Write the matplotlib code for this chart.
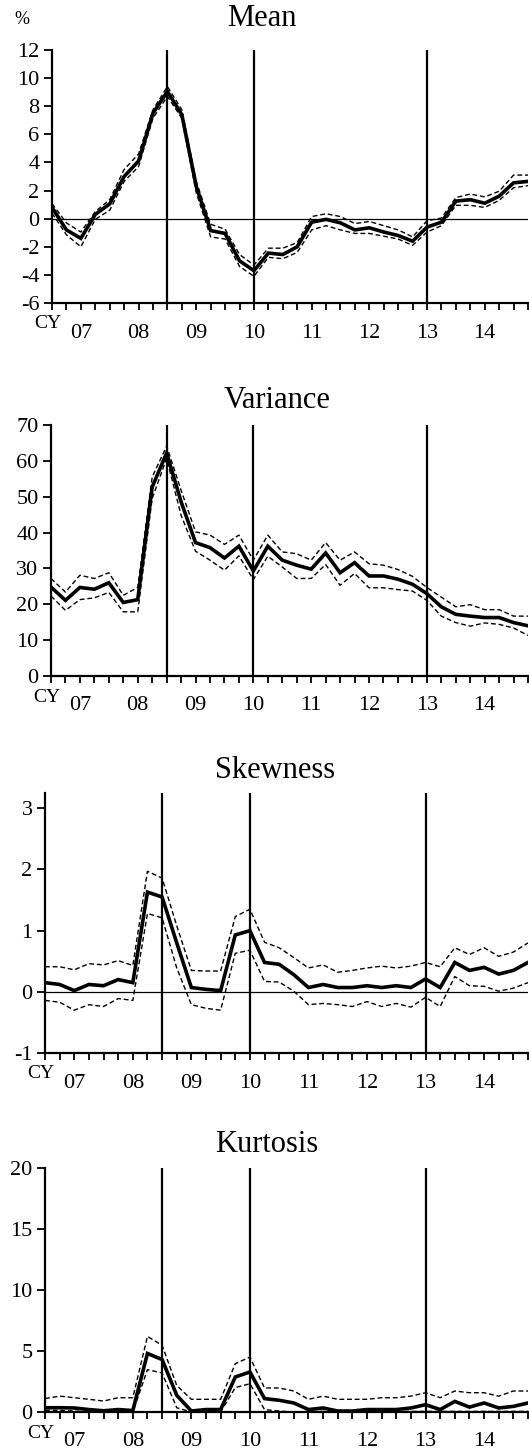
import matplotlib
matplotlib.use("Agg")
import matplotlib.pyplot as plt

plt.rcParams['font.family'] = ['Liberation Serif', 'DejaVu Serif']

# Quarterly observations, CY2007 Q1 onward
quarters = list(range(34))
year_labels = ['07', '08', '09', '10', '11', '12', '13', '14']
year_label_pos = [2, 6, 10, 14, 18, 22, 26, 30]
event_lines = [8, 14, 26]

mean_mid = [0.8, -0.8, -1.4, 0.3, 1.05, 3.0, 4.1, 7.5, 9.05, 7.4, 2.3, -0.85,
            -1.05, -3.0, -3.7, -2.45, -2.55, -2.0, -0.25, -0.05, -0.3, -0.8,
            -0.65, -0.95, -1.2, -1.6, -0.6, -0.25, 1.25, 1.35, 1.1, 1.6, 2.55, 2.65]
mean_hi = [1.07, -0.3, -0.95, 0.5, 1.35, 3.5, 4.6, 7.75, 9.4, 7.75, 2.65, -0.4,
           -0.75, -2.55, -3.3, -2.1, -2.1, -1.7, 0.15, 0.35, 0.15, -0.35,
           -0.2, -0.5, -0.8, -1.3, -0.15, 0.05, 1.5, 1.75, 1.55, 1.95, 3.1, 3.1]
mean_lo = [0.4, -1.15, -2.0, -0.05, 0.6, 2.65, 3.7, 7.15, 8.7, 7.15, 1.85, -1.3,
           -1.45, -3.4, -4.1, -2.75, -2.85, -2.4, -0.8, -0.5, -0.8, -1.05,
           -1.05, -1.25, -1.45, -1.9, -0.95, -0.5, 0.95, 0.95, 0.8, 1.3, 2.2, 2.35]

var_mid = [24.8, 21.1, 24.7, 24.2, 26.0, 20.5, 21.3, 52.7, 62.2, 48.6, 37.2, 35.8,
           32.9, 36.2, 29.3, 36.2, 32.3, 30.9, 29.8, 34.3, 28.8, 31.6, 27.9, 27.9,
           27.0, 25.6, 23.0, 19.3, 17.2, 16.7, 16.3, 16.3, 14.9, 14.0]
var_hi = [27.2, 23.4, 28.1, 27.2, 28.8, 22.5, 24.7, 55.5, 64.1, 51.8, 40.2, 39.3,
          36.7, 39.3, 32.3, 39.3, 34.6, 34.1, 32.3, 37.2, 32.3, 34.6, 31.3, 30.9,
          29.7, 27.8, 24.7, 22.0, 19.3, 19.9, 18.5, 18.5, 16.7, 16.7]
var_lo = [22.3, 18.3, 21.3, 21.8, 23.3, 17.9, 17.9, 49.5, 60.7, 44.8, 34.8, 32.3,
          29.5, 33.5, 26.9, 33.4, 30.4, 27.2, 27.2, 31.1, 25.3, 28.6, 24.6, 24.6,
          24.1, 23.7, 21.1, 16.7, 14.9, 13.9, 14.8, 14.4, 13.4, 11.3]

skew_mid = [0.15, 0.12, 0.02, 0.12, 0.10, 0.20, 0.15, 1.63, 1.55, 0.80, 0.07, 0.04,
            0.02, 0.93, 1.00, 0.48, 0.45, 0.28, 0.07, 0.12, 0.07, 0.07, 0.10, 0.07,
            0.10, 0.07, 0.21, 0.07, 0.48, 0.35, 0.40, 0.29, 0.35, 0.48]
skew_hi = [0.41, 0.41, 0.36, 0.46, 0.44, 0.51, 0.43, 1.97, 1.86, 1.08, 0.35, 0.34,
           0.34, 1.23, 1.35, 0.81, 0.72, 0.56, 0.39, 0.44, 0.32, 0.35, 0.39, 0.42,
           0.39, 0.42, 0.48, 0.41, 0.72, 0.61, 0.72, 0.58, 0.65, 0.80]
skew_lo = [-0.14, -0.17, -0.30, -0.21, -0.24, -0.11, -0.14, 1.28, 1.21, 0.39, -0.21, -0.27,
           -0.30, 0.63, 0.68, 0.17, 0.16, 0.01, -0.21, -0.19, -0.21, -0.24, -0.16, -0.24,
           -0.19, -0.25, -0.09, -0.24, 0.25, 0.10, 0.09, 0.01, 0.06, 0.15]

kurt_mid = [0.35, 0.35, 0.33, 0.2, 0.1, 0.2, 0.12, 4.8, 4.3, 1.37, 0.08, 0.2,
            0.2, 2.87, 3.28, 1.1, 0.96, 0.74, 0.2, 0.33, 0.08, 0.08, 0.2, 0.2,
            0.2, 0.33, 0.6, 0.2, 0.87, 0.4, 0.74, 0.33, 0.46, 0.74]
kurt_hi = [1.1, 1.3, 1.17, 1.04, 0.9, 1.17, 1.17, 6.2, 5.46, 2.18, 1.04, 1.04,
           1.04, 3.96, 4.5, 1.97, 1.97, 1.72, 1.04, 1.3, 1.04, 1.04, 1.04, 1.17,
           1.17, 1.3, 1.58, 1.17, 1.72, 1.58, 1.58, 1.3, 1.72, 1.72]
kurt_lo = [0.14, 0.14, 0.08, 0.0, 0.0, 0.0, 0.0, 3.47, 3.2, 0.35, 0.0, 0.0,
           0.0, 2.0, 2.32, 0.2, 0.08, 0.0, 0.05, 0.05, 0.05, 0.05, 0.05, 0.05,
           0.05, 0.05, 0.05, 0.05, 0.05, 0.05, 0.05, 0.05, 0.05, 0.05]

W, H = 529, 1453
fig = plt.figure(figsize=(W / 100, H / 100), dpi=100)


def px_axes(left, top, right, bottom):
    return fig.add_axes([left / W, 1 - bottom / H, (right - left) / W, (bottom - top) / H])


panels = [
    # title, title_x, title_y, box, ylim, yticks, mid, hi, lo, zero line
    ('Mean', 262, 19, (52, 50, 528, 303), (-6, 12), range(-6, 13, 2),
     mean_mid, mean_hi, mean_lo, True),
    ('Variance', 277, 400, (51, 425, 528, 676), (0, 70), range(0, 71, 10),
     var_mid, var_hi, var_lo, False),
    ('Skewness', 275, 770, (45, 793, 528, 1053), (-1, 3.25), range(-1, 4),
     skew_mid, skew_hi, skew_lo, True),
    ('Kurtosis', 267, 1145, (45, 1168, 528, 1412), (0, 20), range(0, 21, 5),
     kurt_mid, kurt_hi, kurt_lo, False),
]

for title, tx, ty, box, ylim, yticks, mid, hi, lo, zero in panels:
    ax = px_axes(*box)
    ax.set_xlim(0, 33)
    ax.set_ylim(*ylim)
    for s in ('top', 'right'):
        ax.spines[s].set_visible(False)
    for s in ('left', 'bottom'):
        ax.spines[s].set_linewidth(1.6)
    if zero:
        ax.axhline(0, color='black', lw=0.9, zorder=1)
    for xv in event_lines:
        ax.axvline(xv, color='black', lw=1.6, zorder=2)
    ax.plot(quarters, hi, color='black', lw=1.0, ls=(0, (3.5, 2)), zorder=3)
    ax.plot(quarters, lo, color='black', lw=1.0, ls=(0, (3.5, 2)), zorder=3)
    ax.plot(quarters, mid, color='black', lw=2.6, zorder=4, solid_joinstyle='miter')
    ax.set_yticks(list(yticks))
    ax.set_yticklabels([str(v) for v in yticks])
    ax.tick_params(axis='y', direction='out', length=6, width=1.3, labelsize=16, pad=3)
    ax.set_xticks(quarters)
    ax.set_xticklabels([])
    ax.tick_params(axis='x', direction='out', length=5, width=1.3)

    # calendar-year labels under the quarterly ticks
    ax_h = box[3] - box[1]
    xt = ax.get_xaxis_transform()
    for pos, lab in zip(year_label_pos, year_labels):
        ax.text(pos, -30 / ax_h, lab, transform=xt, ha='center', va='center',
                fontsize=16, clip_on=False)
    ax.text(-0.3, -21 / ax_h, 'CY', transform=xt, ha='center', va='center',
            fontsize=14, clip_on=False)
    fig.text(tx / W, 1 - ty / H, title, ha='center', va='center', fontsize=22)

fig.text(22 / W, 1 - 20 / H, '%', ha='center', va='center', fontsize=13)

fig.savefig('out.png', dpi=100)
